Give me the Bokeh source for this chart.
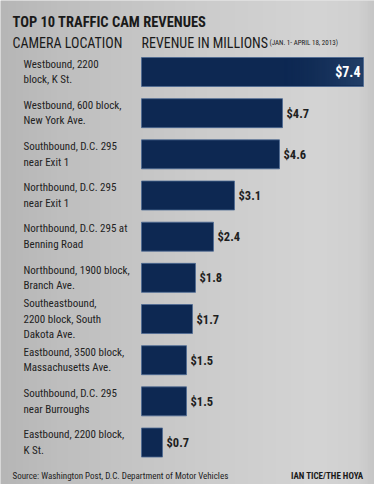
import numpy as np
from bokeh.plotting import figure
from bokeh.models import Range1d, ColumnDataSource
from bokeh.core.properties import value
from bokeh.embed import file_html
from bokeh.resources import INLINE

locations = [
    "Westbound, 2200\nblock, K St.",
    "Westbound, 600 block,\nNew York Ave.",
    "Southbound, D.C. 295\nnear Exit 1",
    "Northbound, D.C. 295\nnear Exit 1",
    "Northbound, D.C. 295 at\nBenning Road",
    "Northbound, 1900 block,\nBranch Ave.",
    "Southeastbound,\n2200 block, South\nDakota Ave.",
    "Eastbound, 3500 block,\nMassachusetts Ave.",
    "Southbound, D.C. 295\nnear Burroughs",
    "Eastbound, 2200 block,\nK St.",
]
revenues = [7.4, 4.7, 4.6, 3.1, 2.4, 1.8, 1.7, 1.5, 1.5, 0.7]
value_labels = ["$7.4", "$4.7", "$4.6", "$3.1", "$2.4", "$1.8", "$1.7", "$1.5", "$1.5", "$0.7"]

title_text = "TOP 10 TRAFFIC CAM REVENUES"
col1_text = "CAMERA LOCATION"
col2_text = "REVENUE IN MILLIONS"
period_text = "(JAN. 1- APRIL 18, 2013)"
source_text = "Source: Washington Post, D.C. Department of Motor Vehicles"
credit_text = "IAN TICE/THE HOYA"

W, H = 374, 484
X0, PPX = 141.0, 30.0      # pixel of zero revenue, pixels per million
Y0, PPY = 71.5, 41.17      # pixel of first bar centre, pixels per row

def dx(px):
    return (px - X0) / PPX

def dy(py):
    return (py - Y0) / PPY

FONT = "Roboto Condensed"

p = figure(width=W, height=H, output_backend="svg", toolbar_location=None,
           x_range=Range1d(dx(0), dx(W)), y_range=Range1d(dy(H), dy(0)),
           min_border=0, outline_line_color=None)
p.axis.visible = False
p.grid.visible = False
p.background_fill_color = "#c9c9c9"
p.border_fill_color = "#c9c9c9"

# background gradient (decorative)
stops_x = np.array([0.0, 0.15, 0.55, 0.85, 0.96, 1.0])
stops_g = np.array([182, 190, 204, 212, 208, 198])
n = 200
g = np.interp(np.linspace(0, 1, n), stops_x, stops_g).astype(np.uint32)
img = (np.uint32(255) << np.uint32(24)) | (g << np.uint32(16)) | (g << np.uint32(8)) | g
img = img.reshape(1, n)
p.image_rgba(image=[img], x=dx(0), y=dy(0), dw=dx(W) - dx(0), dh=dy(H) - dy(0))

idx = list(range(len(revenues)))
src = ColumnDataSource(dict(y=idx, right=revenues, loc=locations, lab=value_labels))

p.hbar(y="y", left=0, right="right", height=29 / PPY, source=src,
       fill_color="#0d2852", line_color="#4d6a93", line_width=0.8)

# highlight gradient on the largest bar
top = max(revenues)
ti = revenues.index(top)
m = 60
a = np.linspace(0, 1, m) ** 1.6
alpha = (a * 120).astype(np.uint32)
hl = (alpha << np.uint32(24)) | (np.uint32(0x80) << np.uint32(16)) | (np.uint32(0x58) << np.uint32(8)) | np.uint32(0x3a)
hl = hl.reshape(1, m)
p.image_rgba(image=[hl], x=top * 0.62, y=ti - 13.5 / PPY, dw=top * 0.38 - 0.02,
             dh=27 / PPY)

inside = [v == top for v in revenues]
out_src = ColumnDataSource(dict(x=[v for v, i in zip(revenues, inside) if not i],
                                y=[k for k, i in zip(idx, inside) if not i],
                                t=[l for l, i in zip(value_labels, inside) if not i]))
in_src = ColumnDataSource(dict(x=[v for v, i in zip(revenues, inside) if i],
                               y=[k for k, i in zip(idx, inside) if i],
                               t=[l for l, i in zip(value_labels, inside) if i]))

p.text(x="x", y="y", text="t", source=out_src, x_offset=4,
       text_align="left", text_baseline="middle", text_font=value(FONT),
       text_font_style="bold", text_font_size="12.5px", text_color="#1e1e1e")
p.text(x="x", y="y", text="t", source=in_src, x_offset=-3,
       text_align="right", text_baseline="middle", text_font=value(FONT),
       text_font_style="bold", text_font_size="14px", text_color="#ffffff")

p.text(x=dx(23), y="y", text="loc", source=src, text_align="left",
       text_baseline="middle", text_font=value(FONT), text_font_size="11px",
       text_color="#222222", text_line_height=1.2)

def label(txt, px, py, size, bold=False, align="left", color="#1a1a1a"):
    p.text(x=[dx(px)], y=[dy(py)], text=[txt], text_align=align,
           text_baseline="alphabetic", text_font=value(FONT),
           text_font_style="bold" if bold else "normal",
           text_font_size=size, text_color=color)

label(title_text, 12, 22, "14.5px", bold=True)
label(col1_text, 12, 42.3, "14px")
label(col2_text, 141, 42.3, "14px")
label(period_text, 269, 42.3, "7px")
label(source_text, 12, 475.5, "9px", color="#222222")
label(credit_text, 363, 475.5, "9px", bold=True, align="right")

open("out.html", "w").write(file_html(p, INLINE))
